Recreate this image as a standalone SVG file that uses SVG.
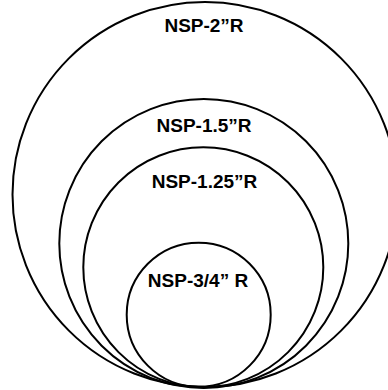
<svg xmlns="http://www.w3.org/2000/svg" width="388" height="390" viewBox="0 0 388 390">
<style>
.c{fill:none;stroke:#000;stroke-width:2}
.t{font-family:"Liberation Sans",Arial,sans-serif;font-weight:bold;font-size:19px;fill:#000;text-anchor:middle}
</style>
<rect width="388" height="390" fill="#fff"/>
<g id="nsp-2">
<circle class="c" cx="205" cy="194.5" r="192.5"/>
<text class="t" x="204" y="32">NSP-2”R</text>
</g>
<g id="nsp-1-5">
<circle class="c" cx="203.8" cy="243.5" r="144.5"/>
<text class="t" x="204" y="132">NSP-1.5”R</text>
</g>
<g id="nsp-1-25">
<circle class="c" cx="203.3" cy="267.3" r="120"/>
<text class="t" x="204.5" y="188">NSP-1.25”R</text>
</g>
<g id="nsp-3-4">
<circle class="c" cx="198.7" cy="314.7" r="72"/>
<text class="t" x="198" y="287">NSP-3/4” R</text>
</g>
<g id="connectors"></g>
</svg>
